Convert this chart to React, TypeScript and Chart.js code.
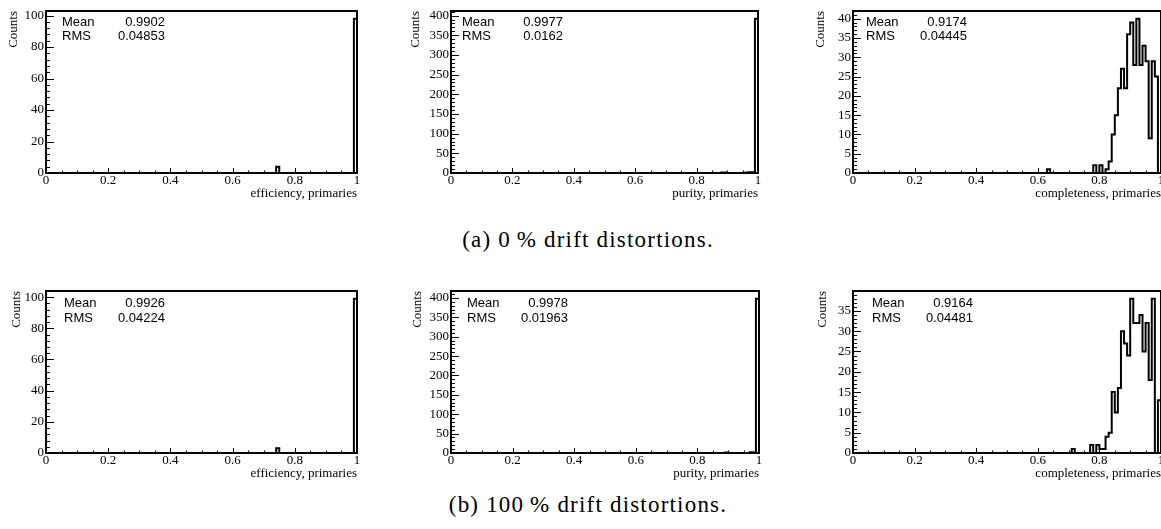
import React, { useEffect, useRef } from "react";
import { Chart, registerables } from "chart.js";

Chart.register(...registerables);

// ---------------- data ----------------
const NBINS = 100; // histogram bins over [0, 1]
const X_MAJOR = 0.2;
const X_MINOR = 0.05;

// (a) 0 % drift distortions
const effA_binLow = [0.74, 0.99];
const effA_counts = [4, 98];

const purA_binLow = [0.88, 0.89, 0.96, 0.97, 0.98, 0.99];
const purA_counts = [1, 1, 1, 2, 2, 392];

const comA_binLow = [0.63, 0.78, 0.8, 0.82, 0.83, 0.84, 0.85, 0.86, 0.87, 0.88, 0.89, 0.9, 0.91, 0.92, 0.93, 0.94, 0.95, 0.96, 0.97, 0.98];
const comA_counts = [1, 2, 2, 1, 3, 10, 15, 22, 27, 22, 36, 39, 28, 40, 28, 33, 29, 9, 29, 25];

// (b) 100 % drift distortions
const effB_binLow = [0.74, 0.99];
const effB_counts = [3, 99];

const purB_binLow = [0.89, 0.97, 0.98, 0.99];
const purB_counts = [1, 2, 1, 398];

const comB_binLow = [0.71, 0.77, 0.79, 0.8, 0.81, 0.82, 0.83, 0.84, 0.85, 0.86, 0.87, 0.88, 0.89, 0.9, 0.91, 0.92, 0.93, 0.94, 0.95, 0.96, 0.97, 0.99];
const comB_counts = [1, 2, 2, 1, 1, 4, 5, 15, 10, 16, 30, 27, 24, 38, 32, 32, 34, 25, 32, 18, 38, 13];

const statMeans = ["0.9902", "0.9977", "0.9174", "0.9926", "0.9978", "0.9164"];
const statRMS = ["0.04853", "0.0162", "0.04445", "0.04224", "0.01963", "0.04481"];
const xTitles = [
  "efficiency, primaries",
  "purity, primaries",
  "completeness, primaries",
  "efficiency, primaries",
  "purity, primaries",
  "completeness, primaries",
];
const yTitle = "Counts";
const yMajorSteps = [20, 50, 5, 20, 50, 5];
const yMinorSteps = [4, 10, 1, 4, 10, 1];
const captions = ["(a) 0\u2009% drift distortions.", "(b) 100\u2009% drift distortions."];

const binLows = [effA_binLow, purA_binLow, comA_binLow, effB_binLow, purB_binLow, comB_binLow];
const binCounts = [effA_counts, purA_counts, comA_counts, effB_counts, purB_counts, comB_counts];

// ---------------- layout (positions / sizes) ----------------
const FRAME_H = 162;
const PAD_TOP = 11;
const PAD_RIGHT = 8;
const XAXIS_H = 28;
const layouts = [
  { left: 46, top: 11, width: 311, yw: 40, meanDx: 16, valDx: 119, dy1: 11, dy2: 25 },
  { left: 451, top: 11, width: 307, yw: 43, meanDx: 11, valDx: 112, dy1: 11, dy2: 25 },
  { left: 853, top: 11, width: 308, yw: 40, meanDx: 13, valDx: 114, dy1: 11, dy2: 25 },
  { left: 46, top: 291, width: 311, yw: 37, meanDx: 18, valDx: 119, dy1: 12, dy2: 27 },
  { left: 451, top: 291, width: 308, yw: 41, meanDx: 16, valDx: 117, dy1: 12, dy2: 27 },
  { left: 853, top: 291, width: 308, yw: 38, meanDx: 19, valDx: 120, dy1: 12, dy2: 27 },
];
const captionPos = [
  { center: 588, top: 228 },
  { center: 588, top: 493 },
];

const SERIF = '"Liberation Serif", "DejaVu Serif", serif';
const SANS = '"Liberation Sans", Arial, Helvetica, sans-serif';

function Panel({ idx }: { idx: number }) {
  const ref = useRef<HTMLCanvasElement>(null);
  const L = layouts[idx];
  const cw = L.yw + L.width + PAD_RIGHT;
  const ch = PAD_TOP + FRAME_H + XAXIS_H;

  useEffect(() => {
    const canvas = ref.current!;
    const lows = binLows[idx];
    const counts = binCounts[idx];
    const bins: number[] = new Array(NBINS).fill(0);
    lows.forEach((e, i) => {
      bins[Math.round(e * NBINS)] = counts[i];
    });
    const pts = bins.map((c, i) => ({ x: i / NBINS, y: c }));
    pts.push({ x: 1, y: 0 });
    const ymax = Math.max(...counts) * 1.05;
    const yMajor = yMajorSteps[idx];
    const yMinor = yMinorSteps[idx];

    const overlay = {
      id: "rootOverlay",
      afterDatasetsDraw(chart: any) {
        const { ctx, chartArea: a, scales } = chart;
        const xs = scales.x;
        const ys = scales.y;
        ctx.save();
        ctx.strokeStyle = "#000";
        ctx.lineWidth = 1;
        ctx.beginPath();
        const nx = Math.round(1 / X_MINOR);
        const xr = Math.round(X_MAJOR / X_MINOR);
        for (let k = 0; k <= nx; k++) {
          const px = Math.round(xs.getPixelForValue(k * X_MINOR)) + 0.5;
          const len = k % xr === 0 ? 5 : 2.5;
          ctx.moveTo(px, a.bottom);
          ctx.lineTo(px, a.bottom - len);
        }
        const ny = Math.floor(ymax / yMinor + 1e-9);
        const yr = Math.round(yMajor / yMinor);
        for (let k = 0; k <= ny; k++) {
          const py = Math.round(ys.getPixelForValue(k * yMinor)) + 0.5;
          const len = k % yr === 0 ? 8 : 4;
          ctx.moveTo(a.left, py);
          ctx.lineTo(a.left + len, py);
        }
        ctx.stroke();
        ctx.lineWidth = 2;
        ctx.strokeRect(a.left, a.top, a.right - a.left, a.bottom - a.top);
        ctx.fillStyle = "#000";
        ctx.font = "13px " + SANS;
        ctx.textBaseline = "middle";
        ctx.textAlign = "left";
        ctx.fillText("Mean", a.left + L.meanDx, a.top + L.dy1);
        ctx.fillText("RMS", a.left + L.meanDx, a.top + L.dy2);
        ctx.textAlign = "right";
        ctx.fillText(statMeans[idx], a.left + L.valDx, a.top + L.dy1);
        ctx.fillText(statRMS[idx], a.left + L.valDx, a.top + L.dy2);
        ctx.restore();
      },
    };

    const chart = new Chart(canvas, {
      type: "line",
      data: {
        datasets: [
          {
            data: pts,
            stepped: true,
            borderColor: "#000",
            borderWidth: 2,
            pointRadius: 0,
            fill: false,
          },
        ],
      },
      options: {
        animation: false,
        responsive: false,
        devicePixelRatio: 1,
        events: [],
        layout: { padding: { top: PAD_TOP, right: PAD_RIGHT, left: 0, bottom: 0 } },
        plugins: { legend: { display: false }, tooltip: { enabled: false } },
        scales: {
          x: {
            type: "linear",
            min: 0,
            max: 1,
            grid: { display: false, drawTicks: false, tickLength: 0 },
            border: { display: false },
            afterBuildTicks: (s: any) => {
              const t: any[] = [];
              for (let k = 0; k * X_MAJOR <= 1 + 1e-9; k++) t.push({ value: Math.round(k * X_MAJOR * 10) / 10 });
              s.ticks = t;
            },
            ticks: {
              autoSkip: false,
              maxRotation: 0,
              padding: 0,
              color: "#000",
              font: { family: SERIF, size: 13 },
              callback: (v: any) => String(Math.round(Number(v) * 10) / 10),
            },
            title: {
              display: true,
              text: xTitles[idx],
              align: "end",
              color: "#000",
              padding: 0,
              font: { family: SERIF, size: 13 },
            },
            afterFit: (s: any) => {
              s.height = XAXIS_H;
            },
          },
          y: {
            type: "linear",
            min: 0,
            max: ymax,
            grid: { display: false, drawTicks: false, tickLength: 0 },
            border: { display: false },
            afterBuildTicks: (s: any) => {
              const t: any[] = [];
              for (let k = 0; k * yMajor <= ymax + 1e-9; k++) t.push({ value: k * yMajor });
              s.ticks = t;
            },
            ticks: {
              autoSkip: false,
              padding: 2,
              color: "#000",
              font: { family: SERIF, size: 13 },
              callback: (v: any) => String(v),
            },
            title: {
              display: true,
              text: yTitle,
              align: "end",
              color: "#000",
              padding: 0,
              font: { family: SERIF, size: 13 },
            },
            afterFit: (s: any) => {
              s.width = L.yw;
            },
          },
        },
      },
      plugins: [overlay],
    } as any);
    return () => chart.destroy();
  }, [idx]);

  return (
    <canvas
      ref={ref}
      width={cw}
      height={ch}
      style={{
        position: "absolute",
        left: L.left - L.yw,
        top: L.top - PAD_TOP,
        width: cw,
        height: ch,
      }}
    />
  );
}

export default function App() {
  return (
    <div
      style={{
        position: "fixed",
        left: 0,
        top: 0,
        width: 1161,
        height: 529,
        overflow: "hidden",
        background: "#fff",
      }}
    >
      {layouts.map((_, i) => (
        <Panel key={i} idx={i} />
      ))}
      {captions.map((c, i) => (
        <div
          key={i}
          style={{
            position: "absolute",
            left: captionPos[i].center - 300,
            width: 600,
            top: captionPos[i].top,
            textAlign: "center",
            fontFamily: SERIF,
            fontSize: 23,
            letterSpacing: 1.2,
            lineHeight: "24px",
            color: "#000",
            whiteSpace: "nowrap",
          }}
        >
          {c}
        </div>
      ))}
    </div>
  );
}
